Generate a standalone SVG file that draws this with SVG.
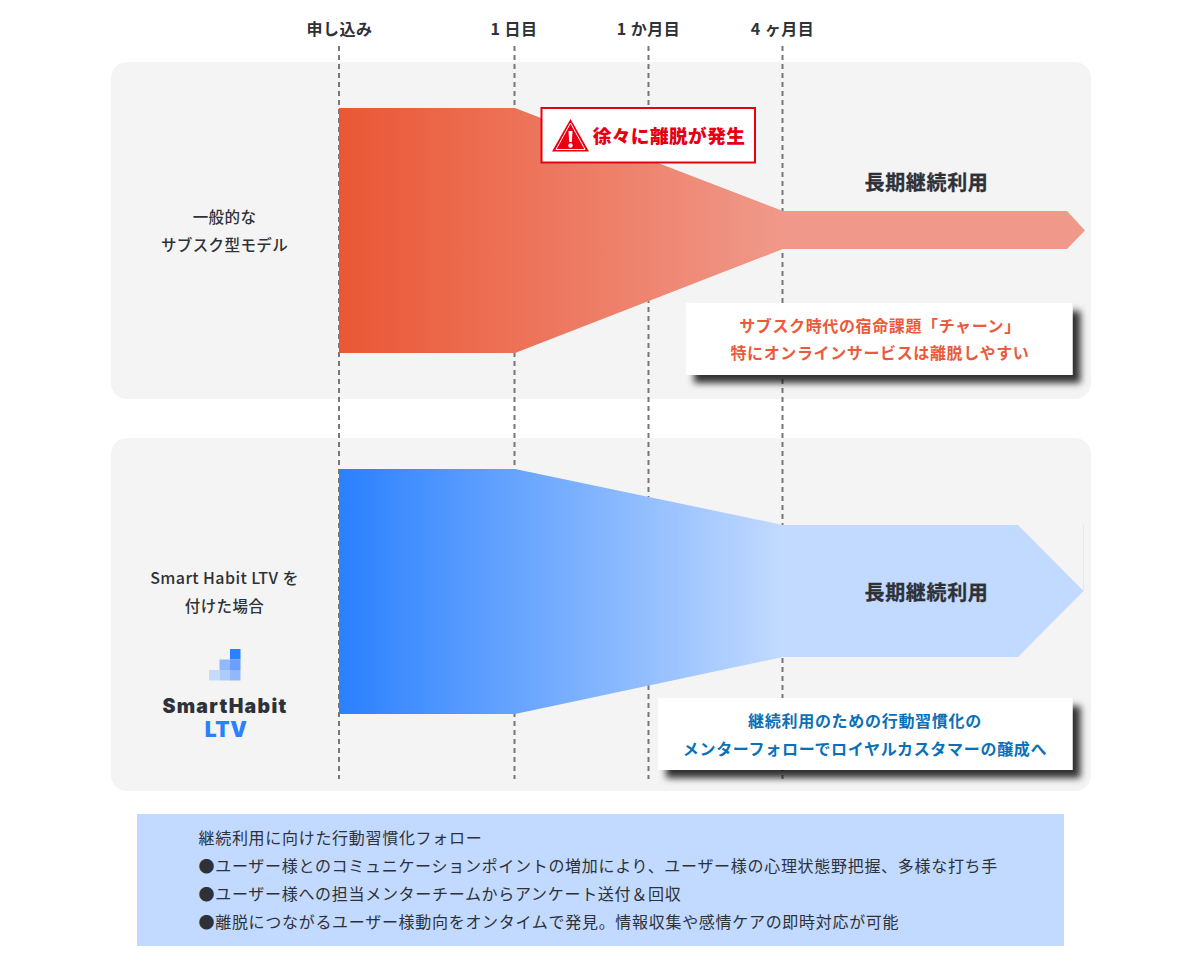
<svg xmlns="http://www.w3.org/2000/svg" width="1200" height="966" viewBox="0 0 1200 966">
<style>
text{font-family:"Noto Sans CJK JP","Noto Sans",sans-serif;fill:#2e3138}
.h{font-size:16px;font-weight:700;text-anchor:middle;letter-spacing:.45px}
.l{font-size:15.500px;font-weight:500;text-anchor:middle;letter-spacing:.4px}
.big{font-size:20px;font-weight:700;text-anchor:middle;letter-spacing:.65px;stroke:#2e3138;stroke-width:.3px}
.panel{fill:#f4f4f4}
.dash{stroke:#777;stroke-width:2;stroke-dasharray:5 4;fill:none}
.card{fill:#fff;filter:url(#sh)}
.red{fill:#eb5a3c;font-size:16px;font-weight:700;text-anchor:middle;letter-spacing:.62px}
.blue{fill:#0a70b8;font-size:16px;font-weight:700;text-anchor:middle;letter-spacing:.7px}
.foot{font-size:16px;font-weight:400;letter-spacing:.7px}
</style>
<defs>
<linearGradient id="gr" gradientUnits="userSpaceOnUse" x1="339" y1="0" x2="783" y2="0"><stop offset="0" stop-color="#ea5735"/><stop offset="1" stop-color="#f0998a"/></linearGradient>
<linearGradient id="gb" gradientUnits="userSpaceOnUse" x1="339" y1="0" x2="783" y2="0"><stop offset="0" stop-color="#2a80ff"/><stop offset="1" stop-color="#c2daff"/></linearGradient>
<filter id="sh" x="-10%" y="-20%" width="125%" height="150%"><feDropShadow dx="8" dy="8" stdDeviation="3.500" flood-color="#000" flood-opacity=".8"/></filter>
</defs>
<g id="panel-top"><rect class="panel" x="111" y="62" width="980" height="337" rx="16"/></g>
<g id="panel-bottom"><rect class="panel" x="111" y="438" width="980" height="353" rx="16"/></g>
<g id="connectors">
<path class="dash" d="M339 46V779"/>
<path class="dash" d="M514.500 46V779"/>
<path class="dash" d="M648.500 46V779"/>
<path class="dash" d="M782.500 46V779"/>
</g>
<g id="flow-top">
<path fill="url(#gr)" d="M339 108H515L783 211H1067L1085 230.500L1067 249H783L515 353H339Z"/>
</g>
<g id="flow-bottom">
<path fill="url(#gb)" d="M339 469H515L783 525H1018L1083.500 591L1018 657H783L515 714H339Z"/>
<path d="M1083.500 525V591" stroke="#dfe8f8" stroke-width="1" fill="none"/>
</g>
<g id="header-labels">
<text class="h" x="339.500" y="35">申し込み</text>
<text class="h" x="514" y="35">1 日目</text>
<text class="h" x="648.500" y="35">1 か月目</text>
<text class="h" x="782.500" y="35">4 ヶ月目</text>
</g>
<g id="label-top">
<text class="l" x="224.500" y="223">一般的な</text>
<text class="l" x="224.500" y="251">サブスク型モデル</text>
</g>
<g id="label-bottom">
<text class="l" x="224.500" y="584" style="font-size:16px">Smart Habit LTV を</text>
<text class="l" x="224.500" y="612">付けた場合</text>
</g>
<g id="logo">
<rect x="230" y="649" width="10.500" height="10.500" fill="#2a80ff"/>
<rect x="219.500" y="659.500" width="10.500" height="10.500" fill="#8fb9fb"/>
<rect x="230" y="659.500" width="10.500" height="10.500" fill="#6a9ffb"/>
<rect x="209" y="670" width="10.500" height="10.500" fill="#c5dbfd"/>
<rect x="219.500" y="670" width="10.500" height="10.500" fill="#aecbfc"/>
<rect x="230" y="670" width="10.500" height="10.500" fill="#8fb9fb"/>
<text x="225" y="713" text-anchor="middle" style="font-family:'Inter',sans-serif;font-weight:900;font-size:19.500px;letter-spacing:1.300px;fill:#2e3138">SmartHabit</text>
<text x="226" y="736.500" text-anchor="middle" style="font-family:'Inter',sans-serif;font-weight:900;font-size:21px;letter-spacing:.5px;fill:#2a80ff">LTV</text>
</g>
<g id="alert">
<rect x="541.500" y="108" width="213.500" height="54.500" fill="#fff" stroke="#e60012" stroke-width="2"/>
<path d="M570.500 119L552 151.500H589Z" fill="#e60012"/>
<path d="M570.500 123L556 149.500H585Z" fill="#e60012" stroke="#fff" stroke-width="1"/>
<path d="M568.500 131H572.500L571.800 142H569.200Z" fill="#fff"/>
<circle cx="570.500" cy="145.500" r="2.200" fill="#fff"/>
<text x="669" y="143" text-anchor="middle" style="fill:#e60012;font-size:18.700px;font-weight:900;letter-spacing:.4px">徐々に離脱が発生</text>
</g>
<g id="big-top"><text class="big" x="926.500" y="190">長期継続利用</text></g>
<g id="big-bottom"><text class="big" x="926.500" y="600">長期継続利用</text></g>
<g id="note-top">
<rect class="card" x="686" y="303" width="386.500" height="72"/>
<text class="red" x="880" y="332">サブスク時代の宿命課題「チャーン」</text>
<text class="red" x="880" y="359">特にオンラインサービスは離脱しやすい</text>
</g>
<g id="note-bottom">
<rect class="card" x="658" y="698" width="414.500" height="72"/>
<text class="blue" x="865" y="727">継続利用のための行動習慣化の</text>
<text class="blue" x="865" y="755">メンターフォローでロイヤルカスタマーの醸成へ</text>
</g>
<g id="footer">
<rect x="137" y="814" width="927" height="132" fill="#c2daff"/>
<text class="foot" x="198.500" y="844">継続利用に向けた行動習慣化フォロー</text>
<text class="foot" x="198.500" y="872">●ユーザー様とのコミュニケーションポイントの増加により、ユーザー様の心理状態野把握、多様な打ち手</text>
<text class="foot" x="198.500" y="900">●ユーザー様への担当メンターチームからアンケート送付＆回収</text>
<text class="foot" x="198.500" y="928">●離脱につながるユーザー様動向をオンタイムで発見。情報収集や感情ケアの即時対応が可能</text>
</g>
</svg>
